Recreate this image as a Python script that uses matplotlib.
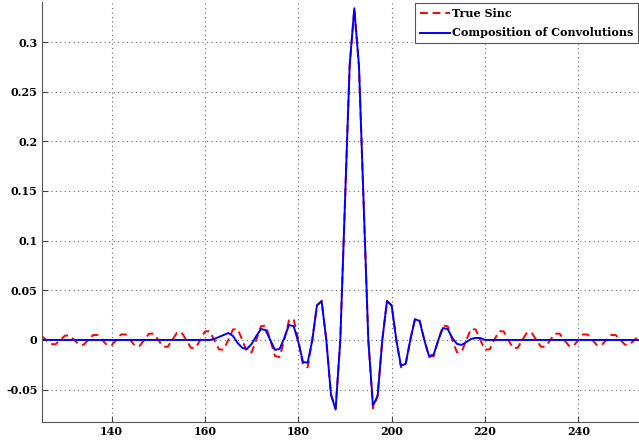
import numpy as np
import matplotlib.pyplot as plt

# sample index along the filter
n = np.arange(125, 254)

# ideal sinc (n = 125 ... 253)
true_sinc = [
    0.0041, 0.0, -0.0042, -0.0043, 0.0, 0.0044, 0.0045, 0.0, -0.0047, -0.0048,
    0.0, 0.0049, 0.0050, 0.0, -0.0052, -0.0053, 0.0, 0.0055, 0.0056, 0.0,
    -0.0059, -0.0060, 0.0, 0.0063, 0.0064, 0.0, -0.0067, -0.0069, 0.0, 0.0073,
    0.0075, 0.0, -0.0079, -0.0081, 0.0, 0.0086, 0.0089, 0.0, -0.0095, -0.0098,
    0.0, 0.0106, 0.0110, 0.0, -0.0120, -0.0125, 0.0, 0.0138, 0.0145, 0.0,
    -0.0162, -0.0172, 0.0, 0.0197, 0.0212, 0.0, -0.0251, -0.0276, 0.0, 0.0345,
    0.0394, 0.0, -0.0551, -0.0689, 0.0, 0.1378, 0.2757, 0.3333, 0.2757, 0.1378,
    0.0, -0.0689, -0.0551, 0.0, 0.0394, 0.0345, 0.0, -0.0276, -0.0251, 0.0,
    0.0212, 0.0197, 0.0, -0.0172, -0.0162, 0.0, 0.0145, 0.0138, 0.0, -0.0125,
    -0.0120, 0.0, 0.0110, 0.0106, 0.0, -0.0098, -0.0095, 0.0, 0.0089, 0.0086,
    0.0, -0.0081, -0.0079, 0.0, 0.0075, 0.0073, 0.0, -0.0069, -0.0067, 0.0,
    0.0064, 0.0063, 0.0, -0.0060, -0.0059, 0.0, 0.0056, 0.0055, 0.0, -0.0053,
    -0.0052, 0.0, 0.0050, 0.0049, 0.0, -0.0048, -0.0047, 0.0, 0.0045,
]

# cascaded convolution result (blue), flat outside ~162..220
conv_left = [0.0] * 37            # n = 125 ... 161
conv_mid = [
    0.001, 0.003, 0.005, 0.007, 0.004, -0.003, -0.008, -0.009, -0.004, 0.004,   # 162-171
    0.011, 0.010, 0.000, -0.010, -0.009, 0.002, 0.015, 0.014, -0.002, -0.022,   # 172-181
    -0.023, 0.000, 0.035, 0.039, 0.000, -0.055, -0.070, 0.000, 0.138, 0.276,    # 182-191
    0.334, 0.276, 0.138, 0.000, -0.066, -0.057, 0.000, 0.039, 0.035, 0.000,     # 192-201
    -0.026, -0.024, 0.000, 0.021, 0.019, 0.000, -0.016, -0.015, 0.000, 0.012,   # 202-211
    0.011, 0.002, -0.004, -0.005, -0.002, 0.001, 0.002, 0.002, 0.000,           # 212-220
]
conv_right = [0.0] * 33           # n = 221 ... 253
composition = conv_left + conv_mid + conv_right

font = {"family": "DejaVu Serif", "weight": "bold", "size": 8}

fig = plt.figure(figsize=(6.39, 4.41), dpi=100)
ax = fig.add_axes([41.6 / 639, 19 / 441, 1 - 41.6 / 639, 420 / 441])

ax.plot(n, true_sinc, color="red", lw=1.4, linestyle=(0, (4, 2.5)), label="True Sinc")
ax.plot(n, composition, "-", color="blue", lw=1.4, label="Composition of Convolutions")

ax.set_xlim(125, 253)
ax.set_ylim(-0.0826, 0.3403)
ax.set_xticks([140, 160, 180, 200, 220, 240])
ax.set_yticks([-0.05, 0, 0.05, 0.1, 0.15, 0.2, 0.25, 0.3])
ax.set_yticklabels(["-0.05", "0", "0.05", "0.1", "0.15", "0.2", "0.25", "0.3"])
for lab in ax.get_xticklabels() + ax.get_yticklabels():
    lab.set_fontproperties(font)

ax.grid(True, linestyle=(0, (1, 3)), color="#666666", lw=0.8)
ax.tick_params(direction="in", length=4, color="#444444", pad=3)
for side in ["top", "right"]:
    ax.spines[side].set_visible(False)
for side in ["left", "bottom"]:
    ax.spines[side].set_color("#555555")

leg = ax.legend(loc="upper right", bbox_to_anchor=(1.0, 1.0), borderaxespad=0.1,
                prop=font, handlelength=2.7, handletextpad=0.1, fancybox=False,
                framealpha=1, edgecolor="#555555", borderpad=0.45, labelspacing=0.75)
leg.get_frame().set_linewidth(0.8)

fig.savefig("out.png", dpi=100)
